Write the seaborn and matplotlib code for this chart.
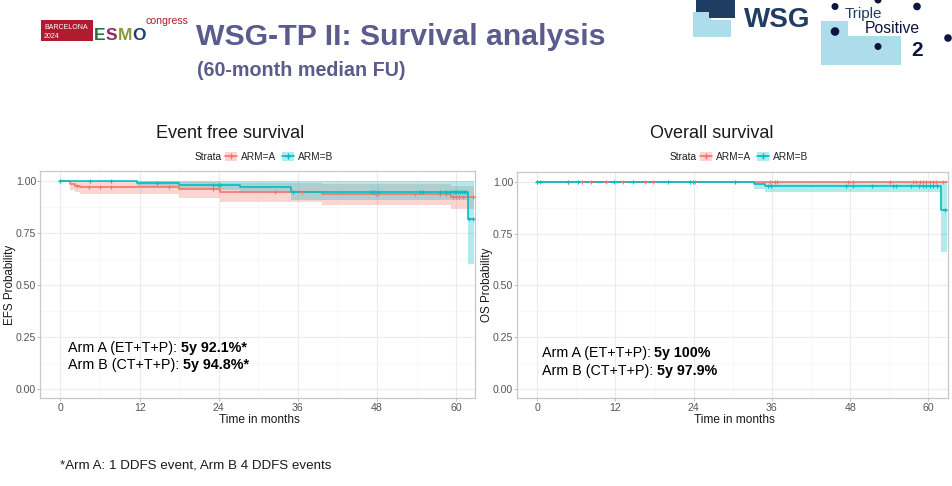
import numpy as np
import pandas as pd
import matplotlib
matplotlib.use("Agg")
import matplotlib.pyplot as plt
import seaborn as sns
from matplotlib.patches import Rectangle, Polygon, Circle, Patch
from matplotlib.lines import Line2D

# ---------------- data ----------------
arms = ["ARM=A", "ARM=B"]
colors = {"ARM=A": "#F8766D", "ARM=B": "#00BFC4"}

# Event free survival
efs_a_times = [1.5, 2.2, 3.0, 17.9, 24.2, 39.6, 59.2]
efs_a_surv = [0.984, 0.978, 0.969, 0.961, 0.947, 0.937, 0.921]
efs_a_lower = [0.955, 0.945, 0.936, 0.918, 0.899, 0.884, 0.866]
efs_a_upper = [1.0, 1.0, 1.0, 0.995, 0.99, 0.985, 0.978]
efs_a_censor = [0.0, 2.5, 4.4, 6.0, 7.6, 16.4, 23.2, 32.5, 36.6, 47.8, 48.2,
                53.7, 57.5, 58.5, 59.5, 60.0, 60.5, 61.0, 62.5]

efs_b_times = [11.6, 17.9, 27.2, 35.0, 61.8]
efs_b_surv = [0.992, 0.981, 0.969, 0.948, 0.816]
efs_b_lower = [0.975, 0.958, 0.940, 0.908, 0.600]
efs_b_upper = [1.0, 1.0, 0.998, 0.998, 1.0]
efs_b_censor = [0.0, 4.5, 7.6, 14.6, 23.2, 23.9, 24.2, 35.3, 47.1, 47.6, 48.2,
                54.5, 55.0, 57.5, 58.5, 59.0, 59.5, 59.8, 60.0, 60.3, 60.6,
                60.9, 61.2, 61.5, 62.0, 62.5]
efs_tmax = 62.7

# Overall survival
os_a_times = []
os_a_surv = []
os_a_lower = []
os_a_upper = []
os_a_censor = [0.0, 4.75, 6.8, 8.3, 10.6, 13.2, 16.5, 17.8, 24.2, 35.7, 36.4,
               36.7, 47.7, 48.4, 54.1, 57.6, 58.1, 58.7, 59.2, 59.7, 60.2,
               60.7, 61.2, 62.2]

os_b_times = [33.2, 35.0, 61.9]
os_b_surv = [0.989, 0.979, 0.862]
os_b_lower = [0.968, 0.949, 0.663]
os_b_upper = [1.0, 1.0, 1.0]
os_b_censor = [0.0, 0.4, 4.7, 6.3, 11.7, 14.7, 20.1, 23.4, 23.9, 30.3, 35.4,
               35.9, 47.4, 48.4, 51.3, 54.6, 55.1, 57.4, 58.5, 59.2, 59.7,
               60.2, 60.7, 61.3, 62.5]
os_tmax = 62.9

x_ticks = [0, 12, 24, 36, 48, 60]
y_ticks = [0.0, 0.25, 0.5, 0.75, 1.0]
y_ticklabels = ["0.00", "0.25", "0.50", "0.75", "1.00"]

panel_titles = ["Event free survival", "Overall survival"]
y_labels = ["EFS Probability", "OS Probability"]
x_label = "Time in months"
annot_regular = [["Arm A (ET+T+P): ", "Arm B (CT+T+P): "],
                 ["Arm A (ET+T+P): ", "Arm B (CT+T+P): "]]
annot_bold = [["5y 92.1%*", "5y 94.8%*"], ["5y 100%", "5y 97.9%"]]

title = "WSG-TP II: Survival analysis"
subtitle = "(60-month median FU)"
footnote = "*Arm A: 1 DDFS event, Arm B 4 DDFS events"

# ---------------- style ----------------
sns.set_theme(style="white")
plt.rcParams["font.family"] = ["Liberation Sans", "DejaVu Sans"]

W, H = 952, 486
fig = plt.figure(figsize=(W / 100, H / 100), dpi=100)
fig.patch.set_facecolor("white")

# overlay axes in pixel coordinates (transparent, on top)
ov = fig.add_axes([0, 0, 1, 1], zorder=5)
ov.set_xlim(0, W)
ov.set_ylim(H, 0)
ov.axis("off")
ov.patch.set_alpha(0)


def px_axes(x0, y0, x1, y1):
    return [x0 / W, 1 - y1 / H, (x1 - x0) / W, (y1 - y0) / H]


def step_frame(times, surv, lower, upper, tmax):
    return pd.DataFrame({
        "time": [0.0] + list(times) + [tmax],
        "surv": [1.0] + list(surv) + [surv[-1] if surv else 1.0],
        "lower": [1.0] + list(lower) + [lower[-1] if lower else 1.0],
        "upper": [1.0] + list(upper) + [upper[-1] if upper else 1.0],
    })


def surv_at(df, t):
    idx = np.searchsorted(df["time"].values, t, side="right") - 1
    return df["surv"].values[np.clip(idx, 0, len(df) - 1)]


panels = [
    dict(box=(40, 171, 475, 398), tmax=efs_tmax, xlim=(-3.1, 62.85),
         A=(efs_a_times, efs_a_surv, efs_a_lower, efs_a_upper, efs_a_censor),
         B=(efs_b_times, efs_b_surv, efs_b_lower, efs_b_upper, efs_b_censor),
         title_xy=(230, 138), legend_x=195, legend_y=157,
         annot_xy=[(68, 352), (68, 368.5)], ylab_x=10),
    dict(box=(517, 172, 948, 398), tmax=os_tmax, xlim=(-3.1, 63.0),
         A=(os_a_times, os_a_surv, os_a_lower, os_a_upper, os_a_censor),
         B=(os_b_times, os_b_surv, os_b_lower, os_b_upper, os_b_censor),
         title_xy=(712, 138), legend_x=670, legend_y=157,
         annot_xy=[(541.5, 357), (541.5, 374.5)], ylab_x=487),
]

for i, p in enumerate(panels):
    ax = fig.add_axes(px_axes(*p["box"]), zorder=1)
    ax.set_facecolor("white")
    for arm, key in zip(arms, ["A", "B"]):
        times, surv, lower, upper, cens = p[key]
        df = step_frame(times, surv, lower, upper, p["tmax"])
        col = colors[arm]
        if len(times):
            ax.fill_between(df["time"], df["lower"], df["upper"], step="post",
                            color=col, alpha=0.3, lw=0, zorder=2)
        sns.lineplot(data=df, x="time", y="surv", drawstyle="steps-post",
                     color=col, lw=1.2, ax=ax, estimator=None, zorder=3)
        cdf = pd.DataFrame({"time": cens, "surv": surv_at(df, np.array(cens))})
        sns.scatterplot(data=cdf, x="time", y="surv", marker="+", s=12,
                        color=col, linewidth=0.8, ax=ax, zorder=4)

    ax.set_xlim(*p["xlim"])
    ax.set_ylim(-0.045, 1.048)
    ax.set_xticks(x_ticks)
    ax.set_yticks(y_ticks)
    ax.set_yticklabels(y_ticklabels)
    ax.set_xticks([6, 18, 30, 42, 54], minor=True)
    ax.set_yticks([0.125, 0.375, 0.625, 0.875], minor=True)
    ax.grid(True, which="major", color="#EBEBEB", lw=0.8, zorder=0)
    ax.grid(True, which="minor", color="#F5F5F5", lw=0.5, zorder=0)
    ax.set_axisbelow(True)
    ax.tick_params(axis="both", which="major", labelsize=7.6, colors="#B3B3B3",
                   labelcolor="#555555", length=2.5, width=0.6, pad=1,
                   bottom=True, left=True)
    ax.tick_params(axis="y", which="major", pad=0.3)
    ax.tick_params(axis="both", which="minor", length=0)
    for s in ax.spines.values():
        s.set_color("#C8C8C8")
        s.set_linewidth(0.9)
    ax.set_xlabel("")
    ax.set_ylabel("")

    # panel title, axis labels
    ov.text(p["title_xy"][0], p["title_xy"][1], panel_titles[i], fontsize=13,
            ha="center", va="baseline", color="#1a1a1a")
    cx = (p["box"][0] + p["box"][2]) / 2
    ov.text(cx + 2, 423, x_label, fontsize=8.6, ha="center", va="baseline",
            color="#1a1a1a")
    ov.text(p["ylab_x"], (p["box"][1] + p["box"][3]) / 2, y_labels[i],
            fontsize=8.4, rotation=90, ha="center", va="center",
            color="#1a1a1a")

    # legend
    ov.text(p["legend_x"], p["legend_y"] + 3, "Strata", fontsize=7.3,
            ha="left", va="baseline", color="#1a1a1a")
    handles = [(Patch(facecolor=colors[a], alpha=0.3, lw=0),
                Line2D([], [], color=colors[a], lw=1.2, marker="+", ms=4))
               for a in arms]
    ax.legend(handles, ["ARM=A", "ARM=B"], ncol=2, frameon=False,
              fontsize=7.3, loc="center left",
              bbox_to_anchor=((p["legend_x"] + 30) / W, 1 - p["legend_y"] / H),
              bbox_transform=fig.transFigure, handlelength=1.2,
              handleheight=0.9, handletextpad=0.35, columnspacing=0.6,
              borderpad=0, borderaxespad=0)

    # annotations (regular + bold)
    for j in range(2):
        x, y = p["annot_xy"][j]
        t = ov.text(x, y, annot_regular[i][j], fontsize=10.3, ha="left",
                    va="baseline", color="black")
        ov.annotate(annot_bold[i][j], xy=(1, 0), xycoords=t, fontsize=10.3,
                    fontweight="bold", ha="left", va="bottom", color="black")

# ---------------- header ----------------
purple = "#5C5B8E"
ov.text(196, 45, title, fontsize=21.8, fontweight="bold", color=purple,
        va="baseline")
ov.text(197, 75.5, subtitle, fontsize=14.2, fontweight="bold", color=purple,
        va="baseline")

# ESMO logo
ov.add_patch(Rectangle((41, 20), 52, 21, color="#B01C2E", lw=0))
ov.text(44, 29, "BARCELONA", fontsize=5.0, color="white", va="baseline")
ov.text(44, 37.5, "2024", fontsize=5.0, color="white", va="baseline")
for letter, lx, lc in [("E", 93.5, "#2F6B3B"), ("S", 105.5, "#8E2A62"),
                       ("M", 117.5, "#8A9A35"), ("O", 132.5, "#1E3F6E")]:
    ov.text(lx, 40.5, letter, fontsize=12.5, fontweight="bold", color=lc,
            va="baseline")
ov.text(145, 24, "congress", fontsize=7.6, color="#B01C2E", va="baseline")

# WSG logo
navy = "#1F3D63"
light = "#ADDDEA"
ov.add_patch(Polygon([(693, 12), (711, 12), (711, 20), (731, 20), (731, 37),
                      (693, 37)], closed=True, color=light, lw=0))
ov.add_patch(Polygon([(696, 0), (735, 0), (735, 18), (709, 18), (709, 12),
                      (696, 12)], closed=True, color=navy, lw=0))
ov.text(744, 27, "WSG", fontsize=20, fontweight="bold", color=navy,
        va="baseline")
ov.add_patch(Polygon([(821, 21), (848, 21), (848, 36), (901, 36), (901, 65),
                      (821, 65)], closed=True, color=light, lw=0))
for (dx, dy, r) in [(835, 6.5, 3.5), (917, 6.5, 3.8), (835, 31.5, 4.3),
                    (878, 46.5, 3.5), (948, 38, 3.8), (878, 0, 3.5)]:
    ov.add_patch(Circle((dx, dy), r, color="#0D1440", lw=0))
ov.text(845, 18, "Triple", fontsize=11, color=navy, va="baseline")
ov.text(865, 33, "Positive", fontsize=11.3, color="#0D1440", va="baseline")
ov.text(911, 56, "2", fontsize=15, fontweight="bold", color="#0D1440",
        va="baseline")

# footnote
ov.text(60, 468, footnote, fontsize=9.6, color="#1a1a1a", va="baseline")

fig.savefig("out.png", dpi=100, facecolor="white")
